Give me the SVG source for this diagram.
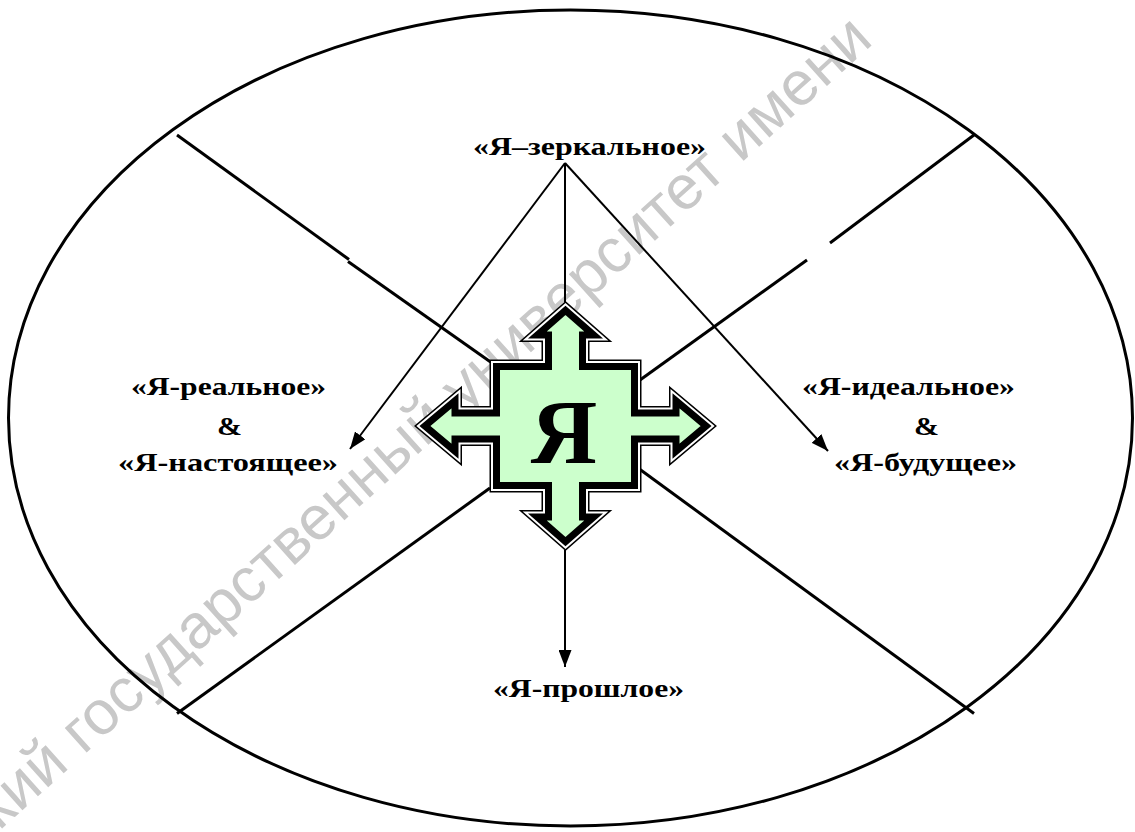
<svg xmlns="http://www.w3.org/2000/svg" width="1135" height="832" viewBox="0 0 1135 832">
<style>
.lbl{font-family:"Liberation Serif","Times New Roman",serif;font-weight:bold;font-size:26px;fill:#000}
.sep{stroke:#000;stroke-width:3;fill:none;stroke-linecap:butt}
.con{stroke:#000;stroke-width:2;fill:none}
.wm{font-family:"Liberation Sans",Arial,sans-serif;font-size:62px;fill:#c8c8c8}
</style>
<defs>
<marker id="ah" markerUnits="userSpaceOnUse" markerWidth="17" markerHeight="13" refX="17" refY="6.5" orient="auto">
<path d="M0,0 L17,6.5 L0,13 Z" fill="#000"/>
</marker>
<path id="quad" d="M565.5,310.3 L593.7,335 L582.5,335 L582.5,366.5 L634.5,366.5 L634.5,413 L676,413 L676,400.7 L706.1,426 L676,451.3 L676,439 L634.5,439 L634.5,485.5 L582.5,485.5 L582.5,517 L593.7,517 L565.5,541.7 L537.3,517 L548.5,517 L548.5,485.5 L496.5,485.5 L496.5,439 L455,439 L455,451.3 L424.9,426 L455,400.7 L455,413 L496.5,413 L496.5,366.5 L548.5,366.5 L548.5,335 L537.3,335 Z"/>
</defs>
<rect width="1135" height="832" fill="#fff"/>
<text class="wm" transform="translate(-24,852) rotate(-42)">ский государственный университет имени</text>
<g id="frame">
<ellipse cx="570.5" cy="418" rx="562" ry="408" class="sep"/>
<line x1="177" y1="135" x2="349" y2="259.5" class="sep"/>
<line x1="348" y1="261.5" x2="492" y2="363" class="sep"/>
<line x1="974" y1="135" x2="830" y2="243" class="sep"/>
<line x1="807" y1="260" x2="640" y2="380" class="sep"/>
<line x1="177" y1="713.5" x2="490" y2="488" class="sep"/>
<line x1="974" y1="713.5" x2="638" y2="468" class="sep"/>
</g>
<g id="connectors">
<line x1="565" y1="163" x2="565" y2="302" class="con"/>
<line x1="565" y1="163" x2="350" y2="449" class="con" marker-end="url(#ah)"/>
<line x1="565" y1="163" x2="828" y2="451" class="con" marker-end="url(#ah)"/>
<line x1="565" y1="550" x2="565" y2="667" class="con" marker-end="url(#ah)"/>
</g>
<g id="center-self">
<use href="#quad" fill="none" stroke="#000" stroke-width="14" stroke-linejoin="miter" stroke-miterlimit="10"/>
<use href="#quad" fill="none" stroke="#fff" stroke-width="11" stroke-linejoin="miter" stroke-miterlimit="10"/>
<use href="#quad" fill="#ccffcc" stroke="#000" stroke-width="7" stroke-linejoin="miter" stroke-miterlimit="10"/>
<text x="564" y="463" text-anchor="middle" style="font-family:'Liberation Serif','Times New Roman',serif;font-weight:bold;font-size:92px">Я</text>
</g>
<g id="mirror-self">
<text class="lbl" x="473" y="155" textLength="233" lengthAdjust="spacingAndGlyphs">«Я–зеркальное»</text>
</g>
<g id="real-present-self">
<text class="lbl" x="131" y="395" textLength="195" lengthAdjust="spacingAndGlyphs">«Я-реальное»</text>
<text class="lbl" x="217" y="435" textLength="25" lengthAdjust="spacingAndGlyphs">&amp;</text>
<text class="lbl" x="118" y="471" textLength="220" lengthAdjust="spacingAndGlyphs">«Я-настоящее»</text>
</g>
<g id="ideal-future-self">
<text class="lbl" x="802" y="395" textLength="213" lengthAdjust="spacingAndGlyphs">«Я-идеальное»</text>
<text class="lbl" x="914" y="435" textLength="25" lengthAdjust="spacingAndGlyphs">&amp;</text>
<text class="lbl" x="834" y="471" textLength="183" lengthAdjust="spacingAndGlyphs">«Я-будущее»</text>
</g>
<g id="past-self">
<text class="lbl" x="493" y="697" textLength="191" lengthAdjust="spacingAndGlyphs">«Я-прошлое»</text>
</g>
</svg>
